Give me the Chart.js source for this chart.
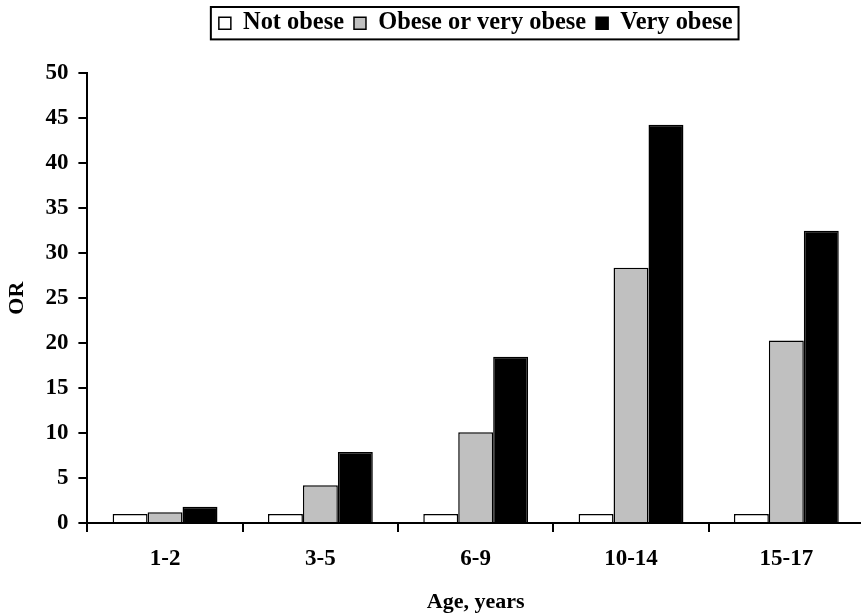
<!DOCTYPE html>
<html>
<head>
<meta charset="utf-8">
<script src="https://cdn.jsdelivr.net/npm/chart.js@4.4.0/dist/chart.umd.min.js"></script>
<style>
  html, body { margin: 0; padding: 0; background: #fff; overflow: hidden; }
  #wrap { width: 870px; height: 616px; }
</style>
</head>
<body>
<div id="wrap"><canvas id="chart"></canvas></div>
<script>
// ------------------------
// DATA
// ------------------------
const ageGroups = ["1-2", "3-5", "6-9", "10-14", "15-17"];
const notObese = [1, 1, 1, 1, 1];
const obeseOrVeryObese = [1.2, 4.2, 10.1, 28.4, 20.3];
const veryObese = [1.8, 7.9, 18.5, 44.3, 32.5];

const FONT = "'Liberation Serif', 'Times New Roman', serif";

// box drawn round the legend items
const legendFrame = {
  id: "legendFrame",
  afterDraw(chart) {
    const boxes = chart.legend && chart.legend.legendHitBoxes;
    if (!boxes || !boxes.length) return;
    const left = Math.min(...boxes.map(b => b.left)) - 8;
    const right = Math.max(...boxes.map(b => b.left + b.width)) + 6;
    const top = Math.min(...boxes.map(b => b.top)) - 4;
    const bottom = Math.max(...boxes.map(b => b.top + b.height)) + 4;
    const ctx = chart.ctx;
    ctx.save();
    ctx.strokeStyle = "#000";
    ctx.lineWidth = 2;
    ctx.strokeRect(left, top, right - left, bottom - top);
    ctx.restore();
  }
};

const ctx = document.getElementById("chart").getContext("2d");

new Chart(ctx, {
  type: "bar",
  data: {
    labels: ageGroups,
    datasets: [
      {
        label: "Not obese",
        data: notObese,
        backgroundColor: "#ffffff",
        borderColor: "#000000",
        borderWidth: 1.5
      },
      {
        label: "Obese or very obese",
        data: obeseOrVeryObese,
        backgroundColor: "#c0c0c0",
        borderColor: "#000000",
        borderWidth: 1.5
      },
      {
        label: "Very obese",
        data: veryObese,
        backgroundColor: "#000000",
        borderColor: "#000000",
        borderWidth: 1.5
      }
    ]
  },
  plugins: [legendFrame],
  options: {
    responsive: true,
    maintainAspectRatio: false,
    animation: false,
    layout: {
      padding: { left: 0, right: 6, top: 1, bottom: 0 }
    },
    datasets: {
      bar: {
        categoryPercentage: 0.675,
        barPercentage: 1.0,
        borderSkipped: "bottom"
      }
    },
    plugins: {
      legend: {
        position: "top",
        fullSize: false,
        labels: {
          color: "#000",
          boxWidth: 12,
          boxHeight: 12,
          padding: 10,
          font: { family: FONT, size: 24.4, weight: "bold" }
        }
      },
      // empty spacer between legend and plot
      title: {
        display: true,
        text: "",
        weight: 500,
        padding: { top: 8, bottom: 8 },
        font: { size: 10 }
      },
      tooltip: { enabled: false }
    },
    scales: {
      x: {
        grid: {
          display: true,
          offset: true,
          drawOnChartArea: false,
          drawTicks: true,
          tickLength: 9,
          color: "#000",
          lineWidth: 2
        },
        border: { display: true, color: "#000", width: 2 },
        ticks: {
          color: "#000",
          padding: 13,
          font: { family: FONT, size: 23, weight: "bold" }
        },
        title: {
          display: true,
          text: "Age, years",
          color: "#000",
          padding: { top: 4, bottom: 0 },
          font: { family: FONT, size: 22, weight: "bold" }
        }
      },
      y: {
        min: 0,
        max: 50,
        grid: {
          display: true,
          drawOnChartArea: false,
          drawTicks: true,
          tickLength: 9,
          color: "#000",
          lineWidth: 2
        },
        border: { display: true, color: "#000", width: 2 },
        ticks: {
          stepSize: 5,
          color: "#000",
          padding: 10,
          font: { family: FONT, size: 23, weight: "bold" }
        },
        title: {
          display: true,
          text: "OR",
          color: "#000",
          padding: { top: 4, bottom: 5 },
          font: { family: FONT, size: 22, weight: "bold" }
        }
      }
    }
  }
});
</script>
</body>
</html>
